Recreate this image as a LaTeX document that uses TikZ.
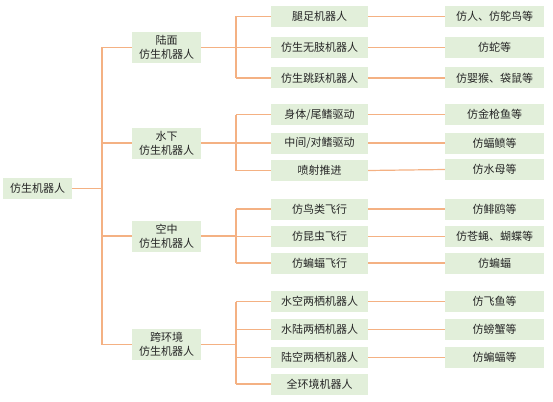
\documentclass[tikz,border=0pt]{standalone}
\usepackage{fontspec}
\setmainfont{Noto Sans CJK SC}
\definecolor{boxfill}{HTML}{E2EFDA}
\definecolor{linecol}{HTML}{F4B183}
\definecolor{txt}{HTML}{262626}
\begin{document}
\begin{tikzpicture}[x=1pt,y=-1pt,
  base/.style={fill=boxfill,draw=none,inner sep=0pt,text=txt,font=\fontsize{11}{14}\selectfont,align=center},
  rootbox/.style={base,minimum width=69pt,minimum height=21pt},
  lone/.style={base,minimum width=69pt,minimum height=31pt},
  ltwo/.style={base,minimum width=97pt,minimum height=21pt},
  lthree/.style={base,minimum width=99pt,minimum height=21pt},
  conn/.style={draw=linecol,line width=1.2pt}]
\useasboundingbox (0,0) rectangle (553,401);
% root
\node[rootbox] (root) at (37.5,188.5) {仿生机器人};
% level 1
\node[lone] (a) at (166.5,47.5) {陆面\\仿生机器人};
\node[lone] (b) at (166.5,143) {水下\\仿生机器人};
\node[lone] (c) at (166.5,236) {空中\\仿生机器人};
\node[lone] (d) at (166.5,344.5) {跨环境\\仿生机器人};
% level 2
\node[ltwo] (a1) at (319.5,16.5) {腿足机器人};
\node[ltwo] (a2) at (319.5,47.5) {仿生无肢机器人};
\node[ltwo] (a3) at (319.5,78) {仿生跳跃机器人};
\node[ltwo] (b1) at (319.5,114.5) {身体/尾鳍驱动};
\node[ltwo] (b2) at (319.5,143) {中间/对鳍驱动};
\node[ltwo] (b3) at (319.5,170.5) {喷射推进};
\node[ltwo] (c1) at (319.5,209) {仿鸟类飞行};
\node[ltwo] (c2) at (319.5,236.5) {仿昆虫飞行};
\node[ltwo] (c3) at (319.5,263) {仿蝙蝠飞行};
\node[ltwo] (d1) at (319.5,301.5) {水空两栖机器人};
\node[ltwo] (d2) at (319.5,329.5) {水陆两栖机器人};
\node[ltwo] (d3) at (319.5,357.5) {陆空两栖机器人};
\node[ltwo] (d4) at (319.5,384) {全环境机器人};
% level 3
\node[lthree] (a1x) at (494.5,16.5) {仿人、仿鸵鸟等};
\node[lthree] (a2x) at (494.5,47.5) {仿蛇等};
\node[lthree] (a3x) at (494.5,78) {仿婴猴、袋鼠等};
\node[lthree] (b1x) at (494.5,114.5) {仿金枪鱼等};
\node[lthree] (b2x) at (494.5,143) {仿蝠鲼等};
\node[lthree] (b3x) at (494.5,169.5) {仿水母等};
\node[lthree] (c1x) at (494.5,209) {仿鲱鸥等};
\node[lthree] (c2x) at (494.5,236.5) {仿苍蝇、蝴蝶等};
\node[lthree] (c3x) at (494.5,263) {仿蝙蝠};
\node[lthree] (d1x) at (494.5,301.5) {仿飞鱼等};
\node[lthree] (d2x) at (494.5,329.5) {仿螃蟹等};
\node[lthree] (d3x) at (494.5,357.5) {仿蝙蝠等};
% trunk coordinates
\coordinate (t0) at (102,188.5);
\coordinate (ta) at (236,47.5);
\coordinate (tb) at (236,143);
\coordinate (tc) at (236,236);
\coordinate (td) at (236,344.5);
% root connectors
\draw[conn] (root.east) -- (t0);
\draw[conn] (t0 |- a) -- (t0 |- d);
\foreach \n in {a,b,c,d} \draw[conn] (t0 |- \n) -- (\n.west);
% group a
\draw[conn] (a.east) -- (ta);
\draw[conn] (ta |- a1) -- (ta |- a3);
\foreach \n in {a1,a2,a3} {\draw[conn] (ta |- \n) -- (\n.west); \draw[conn] (\n.east) -- (\n x.west);}
% group b
\draw[conn] (b.east) -- (tb);
\draw[conn] (tb |- b1) -- (tb |- b3);
\foreach \n in {b1,b2,b3} {\draw[conn] (tb |- \n) -- (\n.west); \draw[conn] (\n.east) -- (\n x.west);}
% group c
\draw[conn] (c.east) -- (tc);
\draw[conn] (tc |- c1) -- (tc |- c3);
\foreach \n in {c1,c2,c3} {\draw[conn] (tc |- \n) -- (\n.west); \draw[conn] (\n.east) -- (\n x.west);}
% group d
\draw[conn] (d.east) -- (td);
\draw[conn] (td |- d1) -- (td |- d4);
\foreach \n in {d1,d2,d3} {\draw[conn] (td |- \n) -- (\n.west); \draw[conn] (\n.east) -- (\n x.west);}
\draw[conn] (td |- d4) -- (d4.west);
\end{tikzpicture}
\end{document}
